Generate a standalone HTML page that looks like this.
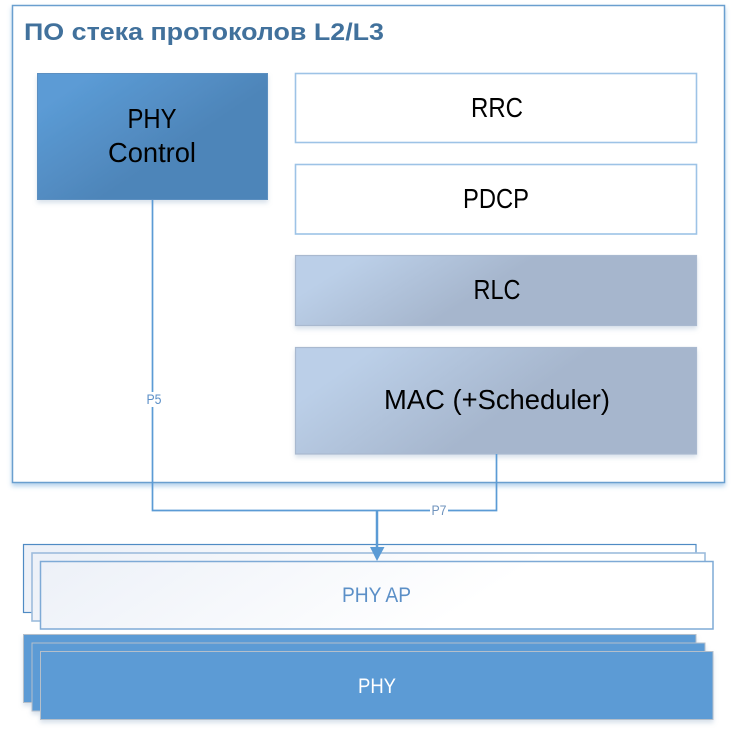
<!DOCTYPE html>
<html>
<head>
<meta charset="utf-8">
<style>
html,body{margin:0;padding:0;background:#fff;width:740px;height:732px;overflow:hidden}
svg{display:block}
text{font-family:"Liberation Sans",sans-serif}
</style>
</head>
<body>
<svg xmlns="http://www.w3.org/2000/svg" width="740" height="732" viewBox="0 0 740 732">
<defs>
<filter id="sh" x="-5%" y="-5%" width="110%" height="115%">
<feGaussianBlur in="SourceAlpha" stdDeviation="2.5" result="b"/>
<feOffset in="b" dy="3" result="o"/>
<feFlood flood-color="#5b9bd5" flood-opacity="0.45"/>
<feComposite in2="o" operator="in" result="s"/>
<feMerge><feMergeNode in="s"/><feMergeNode in="SourceGraphic"/></feMerge>
</filter>
<filter id="shGray" x="-5%" y="-5%" width="110%" height="120%">
<feGaussianBlur in="SourceAlpha" stdDeviation="2.5" result="b"/>
<feOffset in="b" dy="3" result="o"/>
<feFlood flood-color="#7f9dbd" flood-opacity="0.3"/>
<feComposite in2="o" operator="in" result="s"/>
<feMerge><feMergeNode in="s"/><feMergeNode in="SourceGraphic"/></feMerge>
</filter>
<linearGradient id="gPhyC" gradientUnits="userSpaceOnUse" x1="90" y1="75" x2="150" y2="165">
<stop offset="0" stop-color="#5b9bd5"/><stop offset="1" stop-color="#4e85b9"/>
</linearGradient>
<linearGradient id="gRlc" gradientUnits="userSpaceOnUse" x1="370" y1="250" x2="420" y2="330">
<stop offset="0" stop-color="#bbcfe8"/><stop offset="1" stop-color="#a6b6cd"/>
</linearGradient>
<linearGradient id="gMac" gradientUnits="userSpaceOnUse" x1="370" y1="350" x2="445" y2="455">
<stop offset="0" stop-color="#bbcfe8"/><stop offset="1" stop-color="#a6b6cd"/>
</linearGradient>
<linearGradient id="gAp1" gradientUnits="userSpaceOnUse" x1="150" y1="500" x2="290" y2="720">
<stop offset="0" stop-color="#edf1f8"/><stop offset="1" stop-color="#ffffff"/>
</linearGradient>
</defs>

<!-- outer container -->
<rect x="12.5" y="5.5" width="712" height="477" fill="#fff" stroke="#6b9fcf" stroke-width="1.500" filter="url(#sh)"/>
<text x="24" y="40" font-size="24" font-weight="bold" fill="#41719c" textLength="360" lengthAdjust="spacingAndGlyphs">ПО стека протоколов L2/L3</text>

<!-- PHY Control -->
<rect x="37.5" y="73.5" width="230" height="126" fill="url(#gPhyC)" stroke="#5b8fc0" stroke-width="1" filter="url(#shGray)"/>
<text x="152" y="128" font-size="28" text-anchor="middle" fill="#000" textLength="49" lengthAdjust="spacingAndGlyphs">PHY</text>
<text x="152" y="162" font-size="28" text-anchor="middle" fill="#000" textLength="88" lengthAdjust="spacingAndGlyphs">Control</text>

<!-- right column -->
<rect x="295.5" y="73.5" width="401" height="69" fill="#fff" stroke="#9dc3e6" stroke-width="1.600"/>
<text x="497" y="117" font-size="28" text-anchor="middle" fill="#000" textLength="52" lengthAdjust="spacingAndGlyphs">RRC</text>
<rect x="295.5" y="164.5" width="401" height="69.5" fill="#fff" stroke="#9dc3e6" stroke-width="1.600"/>
<text x="496" y="208" font-size="28" text-anchor="middle" fill="#000" textLength="66" lengthAdjust="spacingAndGlyphs">PDCP</text>
<rect x="295.5" y="255.5" width="401" height="70" fill="url(#gRlc)" stroke="#a9b9cf" stroke-width="1.200" filter="url(#shGray)"/>
<text x="497" y="299" font-size="28" text-anchor="middle" fill="#000" textLength="47" lengthAdjust="spacingAndGlyphs">RLC</text>
<rect x="295.5" y="347.5" width="401" height="106.500" fill="url(#gMac)" stroke="#a9b9cf" stroke-width="1.200" filter="url(#shGray)"/>
<text x="497" y="409" font-size="28" text-anchor="middle" fill="#000" textLength="226" lengthAdjust="spacingAndGlyphs">MAC (+Scheduler)</text>

<!-- PHY AP stack -->
<rect x="23.5" y="544.5" width="672.500" height="68" fill="url(#gAp1)" stroke="#4f8bc4" stroke-width="1.200"/>
<rect x="32" y="553" width="673" height="68" fill="url(#gAp1)" stroke="#9dbcdc" stroke-width="1.600"/>
<rect x="40.500" y="561.500" width="672.500" height="67.500" fill="url(#gAp1)" stroke="#7eaad6" stroke-width="1.500"/>
<text x="376.500" y="602" font-size="21" text-anchor="middle" fill="#5b8fc7" textLength="69" lengthAdjust="spacingAndGlyphs">PHY AP</text>

<!-- PHY stack -->
<g filter="url(#shGray)">
<rect x="23.500" y="634.500" width="672.500" height="68" fill="#5b9bd5" stroke="#b5bfca" stroke-width="1"/>
<rect x="32" y="643" width="673" height="68" fill="#5b9bd5" stroke="#b5bfca" stroke-width="1"/>
<rect x="40.500" y="651.500" width="672.500" height="68" fill="#5b9bd5" stroke="#b5bfca" stroke-width="1"/>
</g>
<text x="377" y="693" font-size="21" text-anchor="middle" fill="#fff" textLength="38" lengthAdjust="spacingAndGlyphs">PHY</text>

<!-- connectors -->
<path d="M152.500 200 V510.500 H496.500 V454" fill="none" stroke="#5b9bd5" stroke-width="1.700"/>
<path d="M377 510.500 V549" fill="none" stroke="#5b9bd5" stroke-width="2.500"/>
<path d="M370 547 H384.500 L377 561 Z" fill="#5b9bd5"/>
<rect x="145" y="392" width="17" height="15" fill="#fff"/>
<text x="154" y="404" font-size="13.500" text-anchor="middle" fill="#5b8fc7" textLength="15" lengthAdjust="spacingAndGlyphs">P5</text>
<rect x="430" y="503" width="18" height="15" fill="#fff"/>
<text x="439" y="515" font-size="13.500" text-anchor="middle" fill="#6f93bd" textLength="15" lengthAdjust="spacingAndGlyphs">P7</text>
</svg>
</body>
</html>
